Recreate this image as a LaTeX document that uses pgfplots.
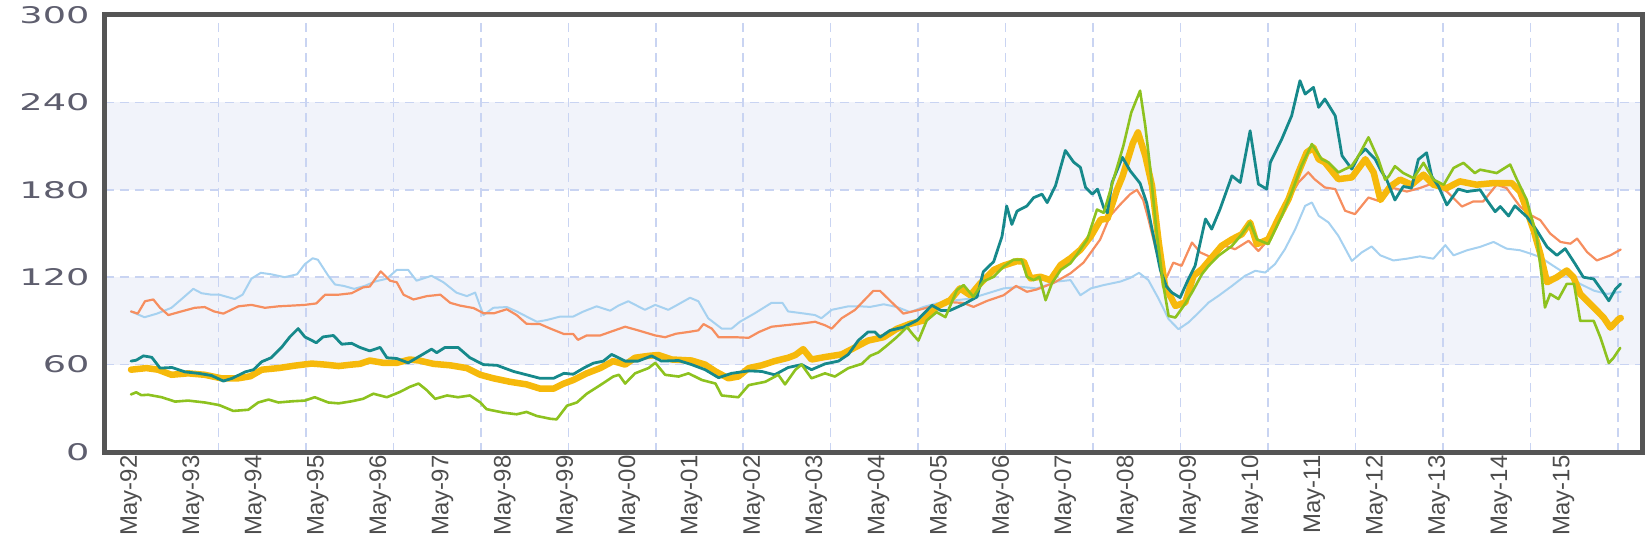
\documentclass[border=0pt]{standalone}
\usepackage{graphicx}
\usepackage{pgfplots}
\pgfplotsset{compat=1.18}
\usepackage{fontspec}
\setmainfont{Liberation Sans}
\newfontfamily\yfont{DejaVu Sans}
\definecolor{cLB}{HTML}{A6D1F0}
\definecolor{cOR}{HTML}{F68E5F}
\definecolor{cTE}{HTML}{16898B}
\definecolor{cYE}{HTML}{F6B90B}
\definecolor{cGR}{HTML}{8DC21F}
\definecolor{cGrid}{HTML}{C9D4F2}
\definecolor{cBand}{HTML}{F1F3FA}
\definecolor{cFrame}{HTML}{555555}
\definecolor{cYlab}{HTML}{5E5E6E}
\definecolor{cXlab}{HTML}{4D4D4D}
\tikzset{gridsty/.style={draw=cGrid, line width=1.5bp, dash pattern=on 9bp off 6bp}}
\begin{document}
\begin{tikzpicture}
\path[use as bounding box] (-105bp,-100bp) rectangle (1542bp,452bp);
\begin{axis}[
  at={(0,0)}, anchor=south west,
  scale only axis, width=1537bp, height=437bp,
  xmin=-5.01, xmax=291.1, ymin=0, ymax=300,
  xtick={0,12,...,276},
  xticklabels={May-92,May-93,May-94,May-95,May-96,May-97,May-98,May-99,May-00,May-01,May-02,May-03,May-04,May-05,May-06,May-07,May-08,May-09,May-10,May-11,May-12,May-13,May-14,May-15},
  x tick label style={rotate=90, anchor=east, font=\fontsize{24}{24}\selectfont, text=cXlab},
  ytick={0,60,120,180,240,300},
  yticklabel={\scalebox{1.6}[1]{\pgfmathprintnumber[assume math mode=true]{\tick}}},
  yticklabel style={font=\yfont\fontsize{23}{23}\selectfont, text=cYlab, xshift=-12bp},
  major tick length=0pt,
  axis line style={line width=5bp, draw=cFrame},
  axis on top,
  no markers,
  every axis plot/.append style={line join=round, line cap=round},
]
\addplot[draw=none, fill=cBand, forget plot] coordinates {(-5.01,60) (291.1,60) (291.1,120) (-5.01,120)} -- cycle;
\addplot[draw=none, fill=cBand, forget plot] coordinates {(-5.01,180) (291.1,180) (291.1,240) (-5.01,240)} -- cycle;
\pgfplotsinvokeforeach{60,120,180,240}{\draw[gridsty] (axis cs:-5.01,#1) -- (axis cs:291.1,#1);}
\pgfplotsinvokeforeach{16.85,33.7,50.55,67.4,84.25,101.1,117.95,134.8,151.65,168.5,185.35,202.2,219.05,235.9,252.75,269.6,286.45}{\draw[gridsty] (axis cs:#1,0) -- (axis cs:#1,300);}

% light blue
\addplot[cLB, line width=2bp] coordinates {
(0,96.5) (2.6,92.5) (5,95) (7.8,99) (10.4,107) (12,112) (13.6,109) (15.5,108) (17,108) (20,105) (21.5,108) (23.2,119) (25,123) (27,122) (29.6,120) (32,122) (33.5,129) (35,133) (36,132) (38,121) (39.3,115) (41,114) (43,112) (45,114) (47,117) (49.3,119) (51.2,125) (53.4,125) (55,117.6) (57.9,121) (60.2,116.5) (62.7,109.4) (64.7,107) (66.3,109.4) (67.9,94) (69.8,99) (72.4,99.5) (74.3,96.5) (76.2,93) (78.2,89.4) (80.1,90.6) (82.7,93) (85.2,93) (87.2,96.5) (89.7,100) (92.3,97) (93.9,100.5) (95.8,103.5) (99,97.6) (101,101) (103.5,97.6) (105,100.5) (107.7,105.9) (109.3,103.5) (111.2,91.8) (113.8,84.7) (115.7,84.7) (117.3,89.4) (120.2,95.3) (123.4,102.4) (125.5,102.4) (126.6,96.5) (129.2,95.3) (131.8,94) (133,91.8) (135,97.6) (138.2,100) (140.5,100) (142.4,99.6) (145,101.4) (147.5,99.6) (150.1,96) (152.7,99.6) (155.2,102) (158.5,104) (161.7,105.3) (164.9,108.8) (168.1,112.3) (171.3,113.4) (174.5,112.3) (178.4,117) (181,118) (182.9,107.6) (184.9,112.3) (187.4,114.6) (190.6,117) (192.5,119.5) (194.2,123) (196,118) (198,105) (199.9,91.2) (201.8,84.3) (203.7,88.9) (205.7,95.7) (207.6,102.6) (209.5,107.2) (212.1,114) (214.6,120.9) (216.6,124.4) (218.5,123.2) (220.4,129) (222.3,139.2) (224.3,153) (226.2,169) (227.5,171.3) (228.8,162.2) (230.7,157.6) (232.6,148.4) (235.2,131.2) (237.1,137) (239,141.1) (240.7,135) (243.2,131.5) (245.8,132.7) (248.3,134.3) (250.9,132.7) (253.2,142) (254.8,135) (257.4,138.5) (259.9,140.8) (262.5,144.2) (265,139.6) (267.6,138.5) (269.6,136.2) (271.5,133.8) (273.4,129.2) (275.4,124.6) (277.3,120) (279.2,115.4) (281.8,110.8) (284.4,108.5) (287,110)
};

% orange
\addplot[cOR, line width=2.2bp] coordinates {
(0,96.5) (1.3,95) (2.7,103.5) (4.3,104.7) (5.6,99) (7.2,94) (9.7,96.5) (12.3,99) (14.2,99.5) (16,96.5) (17.8,95) (20.7,100) (23.2,101) (25.8,99) (28.4,100) (31,100.5) (33.5,101) (35.7,102) (37.4,108) (40,108) (42.5,109) (44.7,113) (46,113.6) (48.1,124) (49.9,117.6) (51.2,116.5) (52.5,108) (54.4,104.7) (57,107) (59.6,108) (61.5,102.4) (63.4,100.5) (66,98.8) (67.9,95.3) (70,95.3) (72.4,98) (74.3,94) (76.2,88) (78.8,87.8) (80.8,84.7) (83.4,81) (85.2,81) (86.1,77) (87.8,80) (90.4,80) (92.3,82.4) (95.2,86) (97.7,83.5) (101,80) (102.9,78.8) (105,81.2) (107.4,82.4) (109.3,83.5) (110.3,87.8) (111.9,84.7) (113.2,78.8) (116.4,78.8) (119,78.4) (121,82.4) (123.4,86) (126,87) (129.2,88.2) (131.8,89.4) (133.7,87) (135,84.7) (136.9,91.8) (139.5,97.6) (141.4,104.7) (143,110.6) (144.3,110.6) (146.2,104) (148.8,95) (151.4,97.2) (153.9,99.6) (157.2,103) (160.4,102.3) (162.3,99.6) (164.9,103.7) (168.1,107.6) (170.5,114) (172.6,110) (174.5,111.6) (177.7,116) (181,122.7) (183.5,130) (186.7,145.8) (188.6,162) (190.6,170) (192.5,177) (193.8,180) (195,173) (196,160) (197.6,137) (198.9,123.2) (199.5,119.8) (200.8,130) (202.4,127.8) (204.4,143.8) (206,137) (208.2,133.5) (210.8,141.5) (212.7,139.2) (215.3,145) (217.2,138) (219.8,148.4) (222.3,169) (224.9,185) (226.8,192) (228,187.3) (230,181.6) (232,180.5) (233.9,165.6) (235.8,163.3) (238.4,174.7) (240.3,172.4) (241.5,177.7) (243.2,181.2) (245.8,178.8) (248.3,181.2) (250.9,184.6) (253.5,178.8) (256.4,168.5) (258.6,172) (260.5,172) (263.1,183.5) (265,181.2) (267.6,168.5) (269.6,162.7) (271.5,159.2) (273.4,150) (275.4,144.2) (277.3,143) (278.6,146.5) (280.5,137.3) (282.4,131.5) (285,135) (287,139)
};

% yellow thick
\addplot[cYE, line width=6.5bp] coordinates {
(0,56.5) (3,57.6) (5.2,56.5) (7.8,53) (11,54) (14.2,53) (17.4,50.6) (20.7,50.6) (23,52) (25.2,56.5) (28.4,57.6) (31.6,59.3) (34.8,60.7) (37.4,60) (40,59) (42.5,60) (44.1,60.5) (46,62.8) (48.6,61.2) (51.2,61.2) (53.7,63.5) (55.5,62.8) (58.3,60.5) (61.5,59.5) (64.7,57.6) (67.3,53) (69.8,50.6) (73,48.2) (76.2,46.4) (78.8,43.5) (81.4,43.5) (83.4,47) (85.2,49.4) (87.8,54) (90.4,57.6) (92.9,62.4) (95.2,60) (97.1,64.7) (99.7,66) (101.6,66.6) (104.2,63.5) (108,62.8) (110.6,60) (112.6,55.3) (115.1,50.6) (117,51.8) (119,57.6) (121.5,59.5) (124,62.4) (126.6,64.7) (128,66.6) (129.5,70.6) (131.1,63.5) (133.7,65.2) (136.9,67) (139.5,71.8) (142,76.5) (145,78.8) (147.5,84.5) (150.1,88) (152.7,90.3) (155.2,99.6) (157.8,104.2) (159.7,112.3) (161.7,107.6) (163.6,115.7) (166.2,125) (168.1,128) (170.7,131) (172,130.7) (173.3,119.2) (175.2,120.3) (177.1,118) (179.1,128.4) (181,133) (182.9,138.8) (184.9,148) (186.8,159.6) (188.1,160) (190,180.4) (191,189) (193,212) (194,219.4) (195.4,203.4) (196.7,182.8) (198,143.8) (199.2,114) (201.2,100.3) (203.1,102.6) (204.7,121) (206.3,125.5) (208.2,133.5) (210.1,141.5) (212.1,146) (214,149.5) (215.6,157.6) (216.9,142.7) (219.1,146) (221,159.9) (223,173.6) (224.9,191.9) (226.5,205.7) (227.8,209) (228.8,201) (230,198.8) (232.6,187.3) (235.2,188.5) (237.8,201) (239.4,191.9) (240.7,173) (242.6,182.3) (244.5,187) (246.7,183.5) (249,190.4) (250.9,183.5) (253.5,181.2) (256,185.8) (259.2,183.5) (262.5,184.6) (266,184.6) (267.6,178.8) (268.9,166.2) (270.2,152.3) (271.5,136.2) (272.8,116.5) (274.7,120) (276.6,124.6) (277.9,120) (279.2,108.5) (281.8,99.2) (283.7,92.3) (285,85.4) (286.6,91.2) (287,92)
};

% teal
\addplot[cTE, line width=2.8bp] coordinates {
(0,62.4) (1,63) (2.4,66) (4,65) (5.6,57.6) (7.9,58) (10.4,55) (13,54) (15.5,52.5) (17.8,48.7) (19.5,50.6) (22,55) (23.6,56.5) (25.2,62) (27,64.7) (29,71.8) (30.6,79) (32.2,84.7) (33.5,79) (35.7,75) (37,79) (39,80) (40.6,74) (42.5,74.6) (44.1,71.8) (46,69.4) (48,71.8) (49.3,64.7) (51.2,64.2) (53.4,61.2) (55.7,66) (57.9,70.6) (58.9,68.2) (60.5,71.8) (63,71.8) (65.3,64.7) (67.9,60) (70.5,59.5) (73.7,55.3) (76.2,53) (78.8,50.6) (81.4,50.6) (83.4,54) (85.2,53.4) (87.2,57.6) (89.1,61) (91,62.4) (92.6,67) (93.9,64.7) (95.2,62.4) (97.7,62.4) (100.3,66) (102.2,62.4) (105.5,62.8) (108,60) (110.6,56.5) (113.2,51) (115.7,54) (119,55.7) (121.5,55.3) (124,53) (126.6,58) (129.2,60) (131.1,56.5) (133.7,60.5) (136.3,62.4) (138.2,67) (140.1,76.5) (142,82.4) (143.3,82.4) (144.3,78.8) (146.2,83.4) (148.8,85.7) (151.4,90.3) (154.3,100.7) (156,97.2) (157.8,97.2) (160.4,101.4) (163,106.5) (164.2,123.8) (166.2,130.7) (167.8,148) (168.7,168.9) (169.7,156.2) (170.7,165.4) (172.6,168.9) (173.9,174.6) (175.5,177) (176.5,171.2) (178.1,182.7) (180,207) (181.6,199) (182.9,195.4) (183.9,181.6) (185.2,177) (186.2,180.4) (187.4,167.7) (188.1,164.2) (189,185) (191,202.3) (192.5,193) (194.4,184.5) (195.7,170.7) (197,147.8) (198.3,125) (199.5,113.5) (200.5,109.5) (202.1,106) (203.7,118.6) (205,127.8) (207,160) (208.2,153) (209.8,166.7) (212.1,189.6) (213.7,185) (215.6,220.5) (217.2,183.9) (218.8,180.5) (219.5,198.8) (221.7,214.8) (223.6,230.8) (225.2,254.9) (226.2,245.7) (227.8,250.3) (228.8,236.6) (230,242.3) (232,230.8) (233.3,203.4) (235.2,194.2) (236.5,203.4) (237.8,208) (239.7,201) (240.7,193.8) (241.9,187) (243.5,173) (245.1,182.3) (246.7,181.2) (248,200.8) (249.6,205.4) (250.6,189.2) (251.9,182.3) (253.5,169.6) (255.7,180.5) (257.4,178.8) (259.9,180) (261.2,173) (262.8,165) (263.8,168.5) (265.4,162) (266.6,169) (268.9,161.5) (270.8,152.3) (272.8,140.8) (274.7,135) (276.3,139.6) (278.2,129.2) (279.8,120) (281.8,118.8) (283.4,110.8) (284.7,103.8) (286,111.9) (287,115.4)
};

% green
\addplot[cGR, line width=2.6bp] coordinates {
(0,39.5) (1,41) (2,39) (3.3,39.3) (5.9,37.6) (8.5,34.6) (11,35.3) (14.2,34) (17,32.2) (19.7,28.2) (22.6,29) (24.5,34) (26.5,36) (28.4,34) (31,34.8) (33.5,35.3) (35.4,37.6) (38,34) (40,33.4) (42.5,34.8) (44.7,36.5) (46.7,40) (49.3,37.6) (51.8,41.2) (53.7,44.7) (55.4,47) (57,42.4) (58.6,36.5) (60.9,38.8) (63,37.6) (65.3,38.8) (67.3,34) (68.5,29.4) (71.8,27) (74.3,25.9) (76.2,27.5) (78.2,24.7) (80.8,22.8) (82,22.4) (84,31.8) (85.9,34) (87.8,40) (90.4,45.9) (92.9,51.8) (94,53) (95.2,47) (97.1,54) (99.7,57.6) (101,61.2) (102.9,53) (105.5,51.8) (107.4,54) (110,49.4) (112.6,47) (113.8,38.8) (117,37.6) (119,45.9) (122.2,48.2) (124.7,53) (126,46.4) (128,56.5) (129.2,60) (131.1,50.6) (133.7,54) (135.6,51.8) (138.2,57.6) (140.8,60.5) (142.4,66) (144,68.4) (145.6,73) (147.5,78.8) (149.5,85.7) (150.8,80) (151.7,76.5) (153.3,90.3) (155.2,96) (156.9,92.6) (159.1,111.1) (160.4,114.6) (162.3,106.5) (164.2,117) (166.2,120.3) (168.1,127.3) (170,132) (171.6,132) (172.6,120.3) (173.9,118) (175,120.3) (176.2,104.2) (177.4,115.7) (179.1,125) (181,129.6) (182.2,135.4) (184.2,145.8) (186.1,166.5) (187.4,164.2) (189.3,187.3) (191.2,210.4) (192.7,233) (194.4,248) (195.4,224) (196.3,196.5) (197.6,150.7) (198.9,114) (199.9,93.4) (201.2,92.3) (202.8,100.3) (204.4,109.5) (206.3,122) (207.6,127.8) (209.5,134.7) (212.1,141.5) (214,149.5) (215.6,157.6) (216.9,146) (219.1,142.7) (221.7,162.2) (223.6,178.2) (225.5,196.5) (227.5,211.4) (229.4,201) (230.7,198.8) (232.6,191.9) (235.2,196.5) (236.5,203.4) (238.4,216) (240.3,201) (241.6,187) (242.3,189.2) (243.5,196.2) (245.1,191.5) (247.1,188) (249,198.5) (250.9,187) (252.9,183.5) (254.8,195) (256.7,198.5) (258.9,191.5) (259.9,193.8) (261.5,192.7) (263.1,191.5) (265.7,197.3) (267,187) (268.9,173) (270.8,147.7) (271.8,120) (272.4,99.2) (273.4,108.5) (275,105) (276.6,115.4) (278,115.4) (279.2,90) (281.8,90) (283.1,78.5) (284.7,61.1) (285.6,64.6) (286.9,71.5)
};
\end{axis}
\end{tikzpicture}
\end{document}
